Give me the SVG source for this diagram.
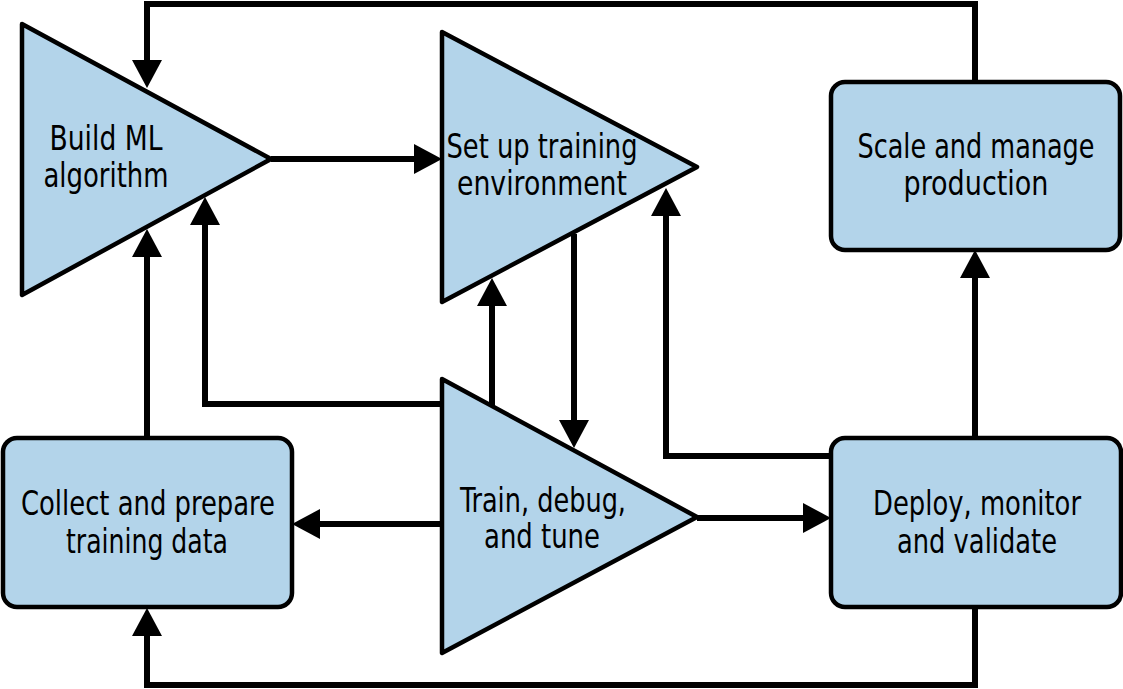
<svg xmlns="http://www.w3.org/2000/svg" width="1123" height="689" viewBox="0 0 1123 689">
<style>
.node{fill:#b3d4ea;stroke:#000;stroke-width:4.5;stroke-linejoin:round}
.lbl{font-family:"Liberation Sans Narrow","DejaVu Sans Condensed","Roboto Condensed","Liberation Sans",sans-serif;font-size:33px;fill:#000;text-anchor:middle}
.conn{fill:none;stroke:#000;stroke-width:6;stroke-linejoin:miter;marker-end:url(#arr)}
</style>
<defs>
<marker id="arr" markerUnits="userSpaceOnUse" markerWidth="30" markerHeight="32" refX="0" refY="15" orient="auto" viewBox="0 0 30 30" overflow="visible">
<path d="M0,0 L28,15 L0,30 Z" fill="#000"/>
</marker>
</defs>
<rect width="1123" height="689" fill="#fff"/>
<g id="build">
<polygon class="node" points="22,24 271,159 22,295"/>
<text class="lbl" x="106" y="150" textLength="113" lengthAdjust="spacingAndGlyphs">Build ML</text>
<text class="lbl" x="106" y="187" textLength="125" lengthAdjust="spacingAndGlyphs">algorithm</text>
</g>
<g id="setup">
<polygon class="node" points="442,32 697,167 442,302"/>
<text class="lbl" x="542" y="158" textLength="191" lengthAdjust="spacingAndGlyphs">Set up training</text>
<text class="lbl" x="542" y="195" textLength="170" lengthAdjust="spacingAndGlyphs">environment</text>
</g>
<g id="train">
<polygon class="node" points="442,379 697,517 442,653"/>
<text class="lbl" x="543" y="512" textLength="166" lengthAdjust="spacingAndGlyphs">Train, debug,</text>
<text class="lbl" x="542" y="548" textLength="116" lengthAdjust="spacingAndGlyphs">and tune</text>
</g>
<g id="collect">
<rect class="node" x="3" y="438" width="289" height="169" rx="14"/>
<text class="lbl" x="148" y="515" textLength="254" lengthAdjust="spacingAndGlyphs">Collect and prepare</text>
<text class="lbl" x="147" y="553" textLength="162" lengthAdjust="spacingAndGlyphs">training data</text>
</g>
<g id="deploy">
<rect class="node" x="831" y="438" width="290" height="169" rx="14"/>
<text class="lbl" x="977" y="515" textLength="208" lengthAdjust="spacingAndGlyphs">Deploy, monitor</text>
<text class="lbl" x="977" y="553" textLength="160" lengthAdjust="spacingAndGlyphs">and validate</text>
</g>
<g id="scale">
<rect class="node" x="831" y="82" width="289" height="168" rx="14"/>
<text class="lbl" x="976" y="158" textLength="237" lengthAdjust="spacingAndGlyphs">Scale and manage</text>
<text class="lbl" x="976" y="195" textLength="145" lengthAdjust="spacingAndGlyphs">production</text>
</g>
<g id="connectors">
<path class="conn" d="M975,82 V4 H147 V60"/>
<path class="conn" d="M271,159 H414"/>
<path class="conn" d="M147,438 V257"/>
<path class="conn" d="M442,404 H205 V225"/>
<path class="conn" d="M492,406 V306"/>
<path class="conn" d="M574,234 V420"/>
<path class="conn" d="M831,456 H666 V216"/>
<path class="conn" d="M442,524 H320"/>
<path class="conn" d="M697,518 H803"/>
<path class="conn" d="M975,438 V278"/>
<path class="conn" d="M975,607 V685 H147 V636"/>
</g>
</svg>
